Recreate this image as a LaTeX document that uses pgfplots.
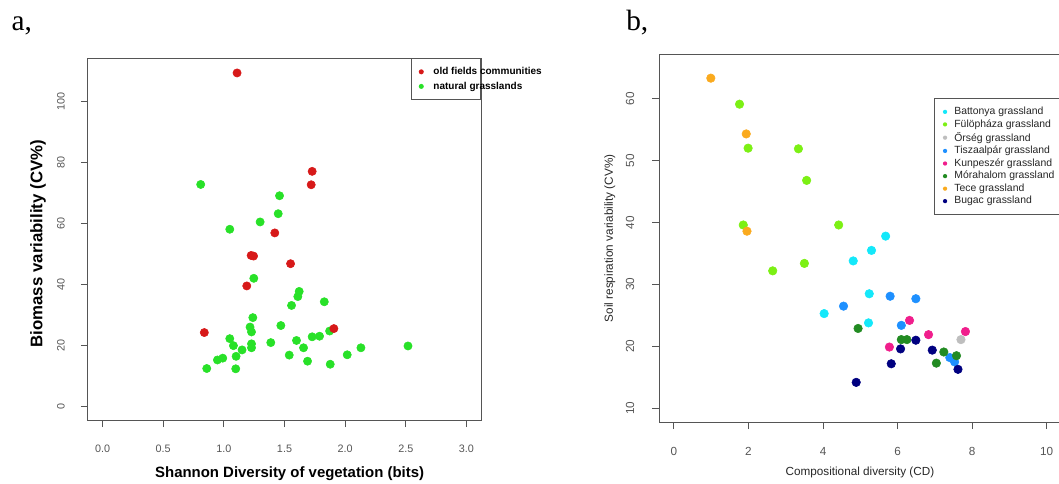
\documentclass[border=0pt]{standalone}
\usepackage{pgfplots}
\pgfplotsset{compat=1.18}
\usepackage{fontspec}
\setmainfont{Liberation Sans}
\newfontfamily\seriffont{Liberation Serif}
\definecolor{axgray}{RGB}{85,85,85}
\definecolor{rred}{RGB}{215,25,25}
\definecolor{rgreen}{RGB}{40,225,40}
\definecolor{cBatt}{RGB}{20,232,250}
\definecolor{cFul}{RGB}{124,240,20}
\definecolor{cOrs}{RGB}{190,190,190}
\definecolor{cTis}{RGB}{30,144,255}
\definecolor{cKun}{RGB}{240,30,140}
\definecolor{cMor}{RGB}{34,139,34}
\definecolor{cTec}{RGB}{250,170,30}
\definecolor{cBug}{RGB}{0,0,128}
\pgfplotsset{
  rstyle/.style={
    scale only axis,
    axis line style={axgray, line width=0.75pt},
    tick style={axgray, line width=0.75pt},
    tick align=outside,
    major tick length=5.25pt,
    xtick pos=bottom, ytick pos=left,
    /pgf/number format/assume math mode=true,
    every axis x label/.style={anchor=center},
    every axis y label/.style={anchor=center, rotate=90},
  },
  dot/.style={only marks, mark=*, draw=none, fill=#1, color=#1},
}
\begin{document}
\begin{tikzpicture}
% ---------------- panel a ----------------
\begin{axis}[rstyle,
  at={(66pt,47.25pt)}, anchor=south west,
  width=294.75pt, height=271.5pt,
  xmin=-0.12, xmax=3.12, ymin=-4.4, ymax=114.4,
  xtick={0,0.5,...,3.0}, ytick={0,20,...,100},
  xticklabel style={anchor=center, yshift=-16.5pt, text=axgray,
    font=\fontsize{8.1}{9}\selectfont,
    /pgf/number format/.cd, fixed, fixed zerofill, precision=1},
  yticklabel style={anchor=center, xshift=-15pt, rotate=90, text=axgray,
    font=\fontsize{8.1}{9}\selectfont},
  xlabel={Shannon Diversity of vegetation (bits)},
  ylabel={Biomass variability (CV\%)},
  xlabel style={at={(axis description cs:0.513,-0.149)}, font=\bfseries\fontsize{11.2}{13}\selectfont},
  ylabel style={at={(axis description cs:-0.127,0.487)}, font=\bfseries\fontsize{12.6}{14}\selectfont},
  mark size=3.1pt,
  reverse legend,
  legend image code/.code={\fill[#1] (0pt,0pt) circle (1.9pt);},
  legend style={at={(rel axis cs:1,1)}, anchor=north east, draw=axgray, line width=0.6pt,
    fill=white, inner xsep=5.4pt, inner ysep=6.6pt, row sep=4pt, column sep=7.2pt,
    font=\bfseries\fontsize{7.5}{8.5}\selectfont, cells={anchor=west},
    nodes={inner sep=0pt}},
]
\addplot[dot=rgreen] table {
x y
0.809 72.9
1.459 69.2
1.448 63.3
1.299 60.6
1.049 58.2
1.247 42.1
1.621 37.8
1.610 36.1
1.558 33.2
1.828 34.4
1.239 29.2
1.216 26.1
1.228 24.5
1.470 26.6
1.049 22.3
1.079 20.0
1.150 18.6
1.101 16.5
1.228 20.6
1.228 19.3
1.387 21.0
1.599 21.7
1.657 19.3
1.728 22.9
1.789 23.1
1.872 24.8
1.539 16.9
1.690 14.9
1.877 13.9
2.017 17.0
2.130 19.3
2.518 19.9
0.859 12.5
1.098 12.4
0.947 15.3
0.991 15.9
};
\addlegendentry{\makebox[30pt][l]{natural grasslands\vphantom{Agd}}}
\addplot[dot=rred] table {
x y
1.109 109.5
1.728 77.2
1.720 72.8
1.420 57.0
1.225 49.6
1.245 49.4
1.550 46.9
1.189 39.6
0.839 24.3
1.907 25.6
};
\addlegendentry{\makebox[30pt][l]{old fields communities\vphantom{Agd}}}
\end{axis}
% ---------------- panel b ----------------
\begin{axis}[rstyle,
  at={(494.25pt,45.75pt)}, anchor=south west,
  width=301.95pt, height=276pt,
  xmin=-0.4, xmax=10.4, ymin=7.8, ymax=67.2,
  xtick={0,2,...,10}, ytick={10,20,...,60},
  xticklabel style={anchor=center, yshift=-16.5pt, text=axgray,
    font=\fontsize{8.8}{10}\selectfont},
  yticklabel style={anchor=center, xshift=-16.5pt, rotate=90, text=axgray,
    font=\fontsize{8.8}{10}\selectfont},
  xlabel={Compositional diversity (CD)},
  ylabel={Soil respiration variability (CV\%)},
  xlabel style={at={(axis description cs:0.499,-0.136)}, text=black!85, font=\fontsize{8.8}{10}\selectfont},
  ylabel style={at={(axis description cs:-0.122,0.499)}, text=black!85, font=\fontsize{8.8}{10}\selectfont},
  mark size=3.2pt,
  legend image code/.code={\fill[#1] (0pt,0pt) circle (1.6pt);},
  legend style={at={(rel axis cs:0.683,0.880)}, anchor=north west, draw=axgray, line width=0.6pt,
    fill=white, inner xsep=6.4pt, inner ysep=6.4pt, row sep=2.2pt, column sep=5.4pt,
    font=\fontsize{7.8}{9}\selectfont, text=black!85, cells={anchor=west},
    nodes={inner sep=0pt}},
]
\addplot[dot=cBatt] table {
x y
5.68 37.8
5.30 35.5
4.81 33.8
5.24 28.5
4.03 25.3
5.22 23.8
};
\addlegendentry{Battonya grassland}
\addplot[dot=cFul] table {
x y
1.76 59.1
1.99 52.0
3.34 51.9
3.56 46.8
1.86 39.6
4.42 39.6
3.50 33.4
2.65 32.2
};
\addlegendentry{Fülöpháza grassland}
\addplot[dot=cOrs] table {
x y
7.70 21.1
};
\addlegendentry{Őrség grassland}
\addplot[dot=cTis] table {
x y
5.80 28.1
6.49 27.7
4.55 26.5
6.10 23.4
7.40 18.2
7.53 17.5
};
\addlegendentry{Tiszaalpár grassland}
\addplot[dot=cKun] table {
x y
6.32 24.2
6.83 21.9
7.82 22.4
5.78 19.9
};
\addlegendentry{Kunpeszér grassland}
\addplot[dot=cMor] table {
x y
4.94 22.9
6.10 21.1
6.25 21.1
7.24 19.1
7.58 18.5
7.04 17.3
};
\addlegendentry{Mórahalom grassland}
\addplot[dot=cTec] table {
x y
0.99 63.3
1.94 54.3
1.96 38.6
};
\addlegendentry{Tece grassland}
\addplot[dot=cBug] table {
x y
6.49 21.0
6.08 19.6
6.93 19.4
5.83 17.2
7.62 16.3
4.89 14.2
};
\addlegendentry{Bugac grassland}
\end{axis}
\node[anchor=base west, inner sep=0pt, font=\seriffont\fontsize{22}{24}\selectfont] at (8.5pt,339pt) {a,};
\node[anchor=base west, inner sep=0pt, font=\seriffont\fontsize{22}{24}\selectfont] at (469.5pt,339pt) {b,};
\pgfresetboundingbox
\path[use as bounding box] (0pt,0pt) rectangle (794.25pt,362.25pt);
\end{tikzpicture}
\end{document}
